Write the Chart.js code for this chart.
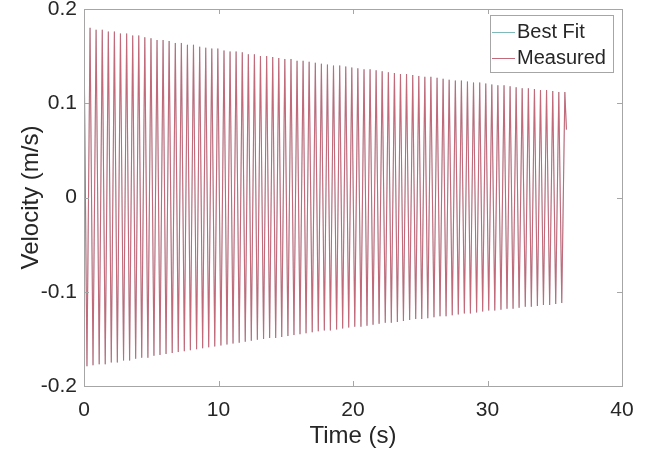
<!DOCTYPE html>
<html>
<head>
<meta charset="utf-8">
<script src="https://cdn.jsdelivr.net/npm/chart.js@4"></script>
<style>
  html, body { margin: 0; padding: 0; background: #fff; }
  #wrap { width: 647px; height: 454px; }
</style>
</head>
<body>
<div id="wrap"><canvas id="velChart" width="647" height="454"></canvas></div>
<script>
// values (s, m/s)
const peakTimes = [0.45, 0.90, 1.36, 1.81, 2.26, 2.71, 3.17, 3.62, 4.07, 4.52,
    4.98, 5.43, 5.88, 6.33, 6.79, 7.24, 7.69, 8.14, 8.60, 9.05,
    9.50, 9.95, 10.41, 10.86, 11.31, 11.77, 12.22, 12.67, 13.12, 13.58,
    14.03, 14.48, 14.93, 15.39, 15.84, 16.29, 16.74, 17.20, 17.65, 18.10,
    18.55, 19.01, 19.46, 19.91, 20.36, 20.82, 21.27, 21.72, 22.17, 22.63,
    23.08, 23.53, 23.98, 24.44, 24.89, 25.34, 25.79, 26.25, 26.70, 27.15,
    27.61, 28.06, 28.51, 28.96, 29.42, 29.87, 30.32, 30.77, 31.23, 31.68,
    32.13, 32.58, 33.04, 33.49, 33.94, 34.39, 34.85, 35.30, 35.75];
const peakVel = [0.180, 0.178, 0.178, 0.176, 0.176, 0.174, 0.174, 0.172, 0.172, 0.170,
    0.169, 0.167, 0.167, 0.166, 0.164, 0.164, 0.162, 0.162, 0.160, 0.159,
    0.158, 0.158, 0.156, 0.155, 0.155, 0.154, 0.152, 0.152, 0.150, 0.150,
    0.149, 0.148, 0.147, 0.147, 0.145, 0.145, 0.144, 0.143, 0.142, 0.141,
    0.140, 0.140, 0.139, 0.138, 0.137, 0.136, 0.136, 0.135, 0.134, 0.133,
    0.132, 0.131, 0.131, 0.130, 0.129, 0.128, 0.128, 0.127, 0.126, 0.125,
    0.124, 0.124, 0.123, 0.122, 0.122, 0.121, 0.120, 0.119, 0.119, 0.118,
    0.117, 0.116, 0.116, 0.115, 0.114, 0.114, 0.113, 0.112, 0.112];
const troughTimes = [0.22, 0.67, 1.13, 1.58, 2.03, 2.48, 2.94, 3.39, 3.84, 4.29,
    4.75, 5.20, 5.65, 6.10, 6.56, 7.01, 7.46, 7.91, 8.37, 8.82,
    9.27, 9.72, 10.18, 10.63, 11.08, 11.54, 11.99, 12.44, 12.89, 13.35,
    13.80, 14.25, 14.70, 15.16, 15.61, 16.06, 16.51, 16.97, 17.42, 17.87,
    18.32, 18.78, 19.23, 19.68, 20.13, 20.59, 21.04, 21.49, 21.94, 22.40,
    22.85, 23.30, 23.75, 24.21, 24.66, 25.11, 25.56, 26.02, 26.47, 26.92,
    27.38, 27.83, 28.28, 28.73, 29.19, 29.64, 30.09, 30.54, 31.00, 31.45,
    31.90, 32.35, 32.81, 33.26, 33.71, 34.16, 34.62, 35.07, 35.52];
const troughVel = [-0.179, -0.178, -0.177, -0.177, -0.175, -0.175, -0.173, -0.173, -0.171, -0.170,
    -0.170, -0.168, -0.167, -0.166, -0.165, -0.164, -0.163, -0.162, -0.161, -0.160,
    -0.159, -0.158, -0.157, -0.156, -0.155, -0.154, -0.153, -0.152, -0.151, -0.150,
    -0.149, -0.149, -0.148, -0.147, -0.146, -0.145, -0.144, -0.143, -0.142, -0.141,
    -0.141, -0.140, -0.139, -0.138, -0.137, -0.137, -0.136, -0.135, -0.134, -0.133,
    -0.133, -0.132, -0.131, -0.130, -0.129, -0.129, -0.128, -0.127, -0.126, -0.126,
    -0.125, -0.124, -0.123, -0.123, -0.122, -0.121, -0.120, -0.120, -0.119, -0.118,
    -0.118, -0.117, -0.116, -0.116, -0.115, -0.114, -0.114, -0.113, -0.112];
const edgeTimes = [0, 35.87];
const edgeVel = [0.170, 0.072];

const seriesNames = ['Best Fit', 'Measured'];
const xTicks = [0, 10, 20, 30, 40];
const yTicks = [-0.2, -0.1, 0, 0.1, 0.2];
const yTickLabels = ['-0.2', '-0.1', '0', '0.1', '0.2'];

function buildPoints() {
    const pts = [{ x: edgeTimes[0], y: edgeVel[0] }];
    for (let i = 0; i < peakTimes.length; i++) {
        pts.push({ x: troughTimes[i], y: troughVel[i] });
        pts.push({ x: peakTimes[i], y: peakVel[i] });
    }
    pts.push({ x: edgeTimes[1], y: edgeVel[1] });
    return pts;
}

const textColor = '#262626';
const boxColor = '#a6a6a6';
const fontFamily = '"Liberation Sans", Arial, sans-serif';

// MATLAB-like box with inward ticks on all four sides
const axesBox = {
    id: 'axesBox',
    afterDatasetsDraw(chart) {
        const { ctx, chartArea: a, scales } = chart;
        ctx.save();
        ctx.strokeStyle = boxColor;
        ctx.lineWidth = 1;
        ctx.strokeRect(a.left + 0.5, a.top + 0.5, a.right - a.left, a.bottom - a.top);
        ctx.beginPath();
        xTicks.forEach(v => {
            const px = Math.round(scales.x.getPixelForValue(v)) + 0.5;
            ctx.moveTo(px, a.bottom); ctx.lineTo(px, a.bottom - 5);
            ctx.moveTo(px, a.top); ctx.lineTo(px, a.top + 5);
        });
        yTicks.forEach(v => {
            const py = Math.round(scales.y.getPixelForValue(v)) + 0.5;
            ctx.moveTo(a.left, py); ctx.lineTo(a.left + 5, py);
            ctx.moveTo(a.right, py); ctx.lineTo(a.right - 5, py);
        });
        ctx.stroke();
        ctx.restore();
    }
};

// boxed legend in the top right corner
const boxLegend = {
    id: 'boxLegend',
    afterDraw(chart) {
        const { ctx, chartArea: a } = chart;
        const right = a.right - 9, top = a.top + 6, w = 123, h = 57;
        const left = right - w;
        ctx.save();
        ctx.fillStyle = '#fff';
        ctx.fillRect(left, top, w, h);
        ctx.strokeStyle = boxColor;
        ctx.lineWidth = 1;
        ctx.strokeRect(left + 0.5, top + 0.5, w, h);
        ctx.font = '20px ' + fontFamily;
        ctx.textBaseline = 'middle';
        seriesNames.forEach((name, i) => {
            const ds = chart.data.datasets.find(d => d.label === name);
            const y = top + 17 + i * 26;
            ctx.strokeStyle = ds.borderColor;
            ctx.lineWidth = 1;
            ctx.beginPath();
            ctx.moveTo(left + 2, y + 0.5);
            ctx.lineTo(left + 25, y + 0.5);
            ctx.stroke();
            ctx.fillStyle = textColor;
            ctx.fillText(name, left + 27, y);
        });
        ctx.restore();
    }
};

const ctx = document.getElementById('velChart').getContext('2d');
const points = buildPoints();

new Chart(ctx, {
    type: 'line',
    data: {
        datasets: [{
            label: seriesNames[0],
            data: points,
            borderColor: '#7fb9b9',
            borderWidth: 0.4,
            pointRadius: 0,
            tension: 0,
            order: 1
        }, {
            label: seriesNames[1],
            data: points,
            borderColor: '#c2697a',
            borderWidth: 1.1,
            pointRadius: 0,
            tension: 0,
            order: 0
        }]
    },
    options: {
        responsive: false,
        animation: false,
        events: [],
        layout: { padding: { left: 0, top: 9, right: 25, bottom: 0 } },
        plugins: { legend: { display: false }, tooltip: { enabled: false } },
        scales: {
            x: {
                type: 'linear',
                min: 0,
                max: 40,
                afterBuildTicks: s => { s.ticks = xTicks.map(v => ({ value: v })); },
                ticks: {
                    color: textColor,
                    padding: 12,
                    maxRotation: 0,
                    font: { family: fontFamily, size: 21 }
                },
                grid: { display: false, drawTicks: false },
                border: { display: false },
                title: {
                    display: true,
                    text: 'Time (s)',
                    color: textColor,
                    padding: { top: 0, bottom: 3 },
                    font: { family: fontFamily, size: 24 }
                },
                afterFit: s => { s.height = 68; s.paddingLeft = 0; s.paddingRight = 0; }
            },
            y: {
                min: -0.2,
                max: 0.2,
                afterBuildTicks: s => { s.ticks = yTicks.map(v => ({ value: v })); },
                ticks: {
                    color: textColor,
                    padding: 7,
                    callback: v => yTickLabels[yTicks.indexOf(Math.round(v * 10) / 10)],
                    font: { family: fontFamily, size: 21 }
                },
                grid: { display: false, drawTicks: false },
                border: { display: false },
                title: {
                    display: true,
                    text: 'Velocity (m/s)',
                    color: textColor,
                    padding: { top: 17, bottom: 0 },
                    font: { family: fontFamily, size: 24 }
                },
                afterFit: s => { s.width = 84; s.paddingTop = 0; s.paddingBottom = 0; }
            }
        }
    },
    plugins: [axesBox, boxLegend]
});
</script>
</body>
</html>
